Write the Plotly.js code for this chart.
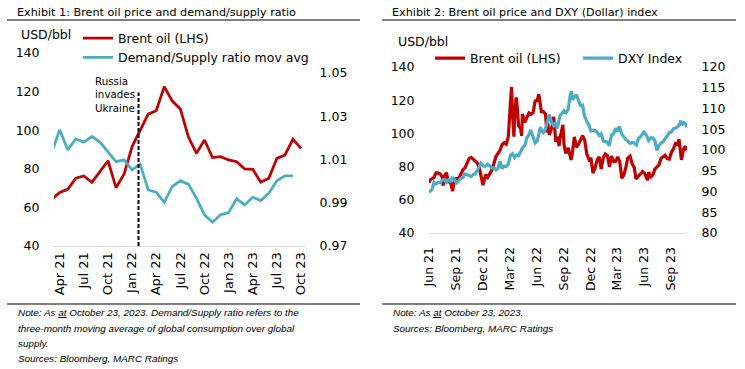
<!DOCTYPE html>
<html>
<head>
<meta charset="utf-8">
<script src="https://cdn.plot.ly/plotly-3.0.1.min.js"></script>
<style>
html,body{margin:0;padding:0;background:#fff;}
#chart{width:745px;height:369px;}
</style>
</head>
<body>
<div id="chart"></div>
<script>
// ---------- Exhibit 1 data (monthly, month-end) ----------
const months = ["Mar 21","Apr 21","May 21","Jun 21","Jul 21","Aug 21","Sep 21","Oct 21","Nov 21","Dec 21",
  "Jan 22","Feb 22","Mar 22","Apr 22","May 22","Jun 22","Jul 22","Aug 22","Sep 22","Oct 22","Nov 22","Dec 22",
  "Jan 23","Feb 23","Mar 23","Apr 23","May 23","Jun 23","Jul 23","Aug 23","Sep 23","Oct 23"];
const brentMonthly = [64.1,67.8,69.4,75.1,76.3,73.0,78.5,84.2,70.2,77.2,
  91.5,100.1,108.3,110.1,122.6,115.1,111.0,96.6,88.0,94.9,85.8,86.3,
  84.6,83.7,79.9,79.7,73.0,75.1,85.4,87.1,95.4,90.6];
const dsRatio = [1.0132,1.0237,1.0144,1.0195,1.0180,1.0206,1.0180,1.0134,1.0090,1.0098,
  1.0052,1.0078,0.9959,0.9949,0.9902,0.9975,1.0001,0.9986,0.9921,0.9844,0.9810,0.9844,
  0.9854,0.9918,0.9890,0.9925,0.9910,0.9944,1.0001,1.0024,1.0024,null];
const ex1TickLabels = ["Apr 21","Jul 21","Oct 21","Jan 22","Apr 22","Jul 22","Oct 22","Jan 23","Apr 23","Jul 23","Oct 23"];
const invasionPos = 10.8; // 24 Feb 2022 on the month index scale

// ---------- Exhibit 2 data ----------
const brentDates = ["2021-06-01","2021-06-04","2021-06-11","2021-06-18","2021-06-25","2021-07-02","2021-07-09","2021-07-16","2021-07-19","2021-07-23","2021-07-30",
"2021-08-06","2021-08-13","2021-08-20","2021-08-27","2021-09-03","2021-09-10","2021-09-17","2021-09-24","2021-10-01","2021-10-08","2021-10-15","2021-10-22","2021-10-29",
"2021-11-05","2021-11-12","2021-11-19","2021-11-26","2021-12-01","2021-12-03","2021-12-10","2021-12-17","2021-12-24","2021-12-31",
"2022-01-07","2022-01-14","2022-01-21","2022-01-28","2022-02-04","2022-02-11","2022-02-18","2022-02-25","2022-03-04","2022-03-08","2022-03-11","2022-03-16","2022-03-18","2022-03-23","2022-03-25",
"2022-04-01","2022-04-08","2022-04-11","2022-04-14","2022-04-22","2022-04-29","2022-05-06","2022-05-13","2022-05-20","2022-05-27","2022-06-03","2022-06-08","2022-06-10","2022-06-17","2022-06-24",
"2022-07-01","2022-07-06","2022-07-08","2022-07-14","2022-07-22","2022-07-29","2022-08-05","2022-08-12","2022-08-16","2022-08-19","2022-08-29","2022-09-02","2022-09-08","2022-09-16","2022-09-26","2022-09-30",
"2022-10-07","2022-10-14","2022-10-21","2022-10-28","2022-11-04","2022-11-11","2022-11-18","2022-11-28","2022-12-02","2022-12-09","2022-12-16","2022-12-23","2022-12-30",
"2023-01-06","2023-01-13","2023-01-20","2023-01-27","2023-02-03","2023-02-10","2023-02-17","2023-02-24","2023-03-03","2023-03-10","2023-03-17","2023-03-24","2023-03-31",
"2023-04-06","2023-04-14","2023-04-21","2023-04-28","2023-05-04","2023-05-12","2023-05-19","2023-05-26","2023-06-02","2023-06-12","2023-06-16","2023-06-23","2023-06-30",
"2023-07-07","2023-07-14","2023-07-21","2023-07-28","2023-08-04","2023-08-11","2023-08-18","2023-08-25","2023-09-01","2023-09-08","2023-09-15","2023-09-22","2023-09-27",
"2023-10-05","2023-10-13","2023-10-20","2023-10-23"];
const brentDaily = [70.25,71.89,72.69,73.51,76.18,76.17,75.55,73.59,68.62,74.10,76.33,
70.70,70.59,65.18,72.70,72.61,72.92,75.34,78.09,79.28,82.39,84.86,85.53,84.38,
82.74,82.17,78.89,72.72,68.87,69.88,75.15,73.52,76.14,77.78,
81.75,86.06,87.89,90.03,93.27,94.44,93.54,97.93,118.11,127.98,112.67,98.02,107.93,121.60,120.65,
104.39,102.78,98.48,111.70,106.65,109.34,112.39,111.55,112.55,119.43,119.72,123.58,122.01,113.12,113.12,
111.63,100.69,107.02,99.10,103.20,110.01,94.92,98.15,92.34,96.72,105.09,93.02,88.00,91.35,84.06,87.96,
97.92,91.63,93.50,95.77,98.57,95.99,87.62,83.19,85.57,76.10,79.04,83.92,85.91,
78.57,85.28,87.63,86.66,79.94,86.39,83.00,83.16,85.83,82.78,72.97,74.99,79.77,
85.12,86.31,81.66,79.54,72.50,74.17,75.58,76.95,76.13,71.84,76.61,73.85,74.90,
78.47,79.87,81.07,84.99,86.24,86.81,84.80,84.48,88.55,90.65,93.93,93.27,96.55,
84.07,90.89,92.16,89.83];

const dxyDates = ["2021-06-01","2021-06-04","2021-06-11","2021-06-18","2021-06-25","2021-07-02","2021-07-09","2021-07-16","2021-07-23","2021-07-30",
"2021-08-06","2021-08-13","2021-08-20","2021-08-27","2021-09-03","2021-09-10","2021-09-17","2021-09-24","2021-09-30","2021-10-08","2021-10-15","2021-10-22","2021-10-29",
"2021-11-05","2021-11-12","2021-11-19","2021-11-24","2021-12-03","2021-12-10","2021-12-17","2021-12-24","2021-12-31",
"2022-01-07","2022-01-14","2022-01-21","2022-01-28","2022-02-04","2022-02-11","2022-02-18","2022-02-25","2022-03-04","2022-03-11","2022-03-18","2022-03-25",
"2022-04-01","2022-04-08","2022-04-14","2022-04-22","2022-04-29","2022-05-06","2022-05-12","2022-05-20","2022-05-27","2022-06-03","2022-06-10","2022-06-14","2022-06-17","2022-06-24",
"2022-07-01","2022-07-08","2022-07-14","2022-07-22","2022-07-29","2022-08-05","2022-08-10","2022-08-19","2022-08-26","2022-09-02","2022-09-09","2022-09-16","2022-09-23","2022-09-27","2022-09-30",
"2022-10-07","2022-10-14","2022-10-21","2022-10-28","2022-11-04","2022-11-10","2022-11-18","2022-11-25","2022-12-02","2022-12-09","2022-12-16","2022-12-23","2022-12-30",
"2023-01-06","2023-01-13","2023-01-20","2023-01-27","2023-02-02","2023-02-10","2023-02-17","2023-02-24","2023-03-03","2023-03-08","2023-03-17","2023-03-24","2023-03-31",
"2023-04-07","2023-04-14","2023-04-21","2023-04-28","2023-05-05","2023-05-12","2023-05-19","2023-05-31","2023-06-09","2023-06-16","2023-06-23","2023-06-30",
"2023-07-07","2023-07-14","2023-07-21","2023-07-28","2023-08-04","2023-08-11","2023-08-18","2023-08-25","2023-09-01","2023-09-08","2023-09-15","2023-09-22","2023-09-29",
"2023-10-03","2023-10-06","2023-10-13","2023-10-20","2023-10-23"];
const dxyDaily = [89.8,90.1,90.5,92.2,91.8,92.2,92.1,92.7,92.9,92.2,
92.8,92.5,93.5,92.7,92.1,92.6,93.2,93.3,94.2,94.1,93.9,93.6,94.1,
94.3,95.1,96.0,96.8,96.1,96.1,96.6,96.0,95.7,
95.7,95.2,95.6,97.3,95.5,96.1,96.0,96.6,98.7,99.1,98.2,98.8,
98.6,99.8,100.5,101.1,103.0,103.7,104.8,103.2,101.7,102.2,104.2,105.5,104.7,104.2,
105.1,107.0,108.5,106.7,105.9,106.6,105.2,108.2,108.8,109.5,109.0,109.8,113.2,114.1,112.1,
112.8,113.3,111.9,110.7,110.8,108.3,106.9,106.0,104.6,104.8,104.7,104.3,103.5,
103.9,102.2,102.0,101.9,101.0,103.6,103.9,105.2,104.5,105.7,103.8,103.1,102.5,
102.1,101.6,101.8,101.7,101.2,102.7,103.2,104.3,103.5,102.3,102.9,102.9,
102.3,99.9,101.1,101.7,102.0,102.8,103.4,104.2,104.3,105.1,105.3,105.6,106.2,
107.1,106.0,106.6,106.2,105.5];

const RED = "#C00000", TEAL = "#4BACC6";
const FONT = "DejaVu Sans, Verdana, sans-serif";
const NOTEFONT = "Liberation Sans, Arial, sans-serif";
const W = 745, H = 369;
const px = v => v / W;
const py = v => 1 - v / H;

const traces = [
  {x: months, y: brentMonthly, type: "scatter", mode: "lines", name: "Brent oil (LHS)",
   line: {color: RED, width: 2.75}, xaxis: "x", yaxis: "y", legend: "legend"},
  {x: months, y: dsRatio, type: "scatter", mode: "lines", name: "Demand/Supply ratio mov avg",
   line: {color: TEAL, width: 2.75}, xaxis: "x", yaxis: "y2", legend: "legend"},
  {x: brentDates, y: brentDaily, type: "scatter", mode: "lines", name: "Brent oil (LHS)",
   line: {color: RED, width: 3.2}, xaxis: "x3", yaxis: "y3", legend: "legend2"},
  {x: dxyDates, y: dxyDaily, type: "scatter", mode: "lines", name: "DXY Index",
   line: {color: TEAL, width: 3.2}, xaxis: "x3", yaxis: "y4", legend: "legend2"}
];

const tickFont = {family: FONT, size: 12.5, color: "#000"};
const hiddenTicks = {ticks: "outside", ticklen: 11, tickcolor: "rgba(0,0,0,0)"};
const noteFont = {family: NOTEFONT, size: 9.9, color: "#000"};

const layout = {
  width: W, height: H,
  margin: {l: 0, r: 0, t: 0, b: 0},
  paper_bgcolor: "#fff", plot_bgcolor: "rgba(0,0,0,0)",
  showlegend: true,
  xaxis: {domain: [px(54), px(305)], type: "category", anchor: "y",
    range: [0.29, 31.5], tickmode: "array", tickvals: ex1TickLabels, ticktext: ex1TickLabels,
    tickangle: -90, tickfont: {family: FONT, size: 13, color: "#000"}, showgrid: false, zeroline: false,
    showline: true, linecolor: "#D9D9D9", linewidth: 1, ticks: ""},
  yaxis: Object.assign({domain: [py(246), py(53)], range: [40, 140], dtick: 20, anchor: "x",
    showgrid: false, zeroline: false, showline: false, tickfont: tickFont}, hiddenTicks),
  yaxis2: Object.assign({overlaying: "y", side: "right", anchor: "x", range: [0.97, 1.0592],
    tickmode: "array", tickvals: [0.97, 0.99, 1.01, 1.03, 1.05], tickformat: ".2f",
    showgrid: false, zeroline: false, showline: false, tickfont: tickFont}, hiddenTicks),
  xaxis3: {domain: [px(429), px(687)], type: "date", anchor: "y3",
    range: ["2021-06-01", "2023-10-24"], tick0: "2021-06-01", dtick: "M3", tickformat: "%b %y",
    tickangle: -90, tickfont: tickFont, showgrid: false, zeroline: false,
    showline: true, linecolor: "#D9D9D9", linewidth: 1,
    ticks: "outside", ticklen: 8, tickcolor: "rgba(0,0,0,0)"},
  yaxis3: Object.assign({domain: [py(233), py(67)], range: [40, 140], dtick: 20, anchor: "x3",
    showgrid: false, zeroline: false, showline: false, tickfont: tickFont}, hiddenTicks),
  yaxis4: Object.assign({overlaying: "y3", side: "right", anchor: "x3", range: [80, 120], dtick: 5,
    showgrid: false, zeroline: false, showline: false, tickfont: tickFont}, hiddenTicks),
  legend: {x: px(78), xanchor: "left", y: py(23.5), yanchor: "top", orientation: "v",
    bgcolor: "rgba(0,0,0,0)", borderwidth: 0, itemwidth: 30, tracegroupgap: 0,
    font: {family: FONT, size: 12.5, color: "#000"}},
  legend2: {x: px(430), xanchor: "left", y: py(43.4), yanchor: "top", orientation: "h",
    bgcolor: "rgba(0,0,0,0)", borderwidth: 0, itemwidth: 30,
    entrywidth: 103, entrywidthmode: "pixels",
    font: {family: FONT, size: 12.5, color: "#000"}},
  shapes: [
    {type: "line", xref: "paper", yref: "paper", x0: px(7), x1: px(360), y0: py(20), y1: py(20), line: {color: "#000", width: 1}},
    {type: "line", xref: "paper", yref: "paper", x0: px(382), x1: px(736), y0: py(20), y1: py(20), line: {color: "#000", width: 1}},
    {type: "line", xref: "paper", yref: "paper", x0: px(7), x1: px(360), y0: py(304), y1: py(304), line: {color: "#000", width: 1}},
    {type: "line", xref: "paper", yref: "paper", x0: px(382), x1: px(736), y0: py(304), y1: py(304), line: {color: "#000", width: 1}},
    {type: "line", xref: "x", yref: "y", x0: invasionPos, x1: invasionPos, y0: 40, y1: 119.5,
     line: {color: "#000", width: 2, dash: "4px,2px"}}
  ],
  annotations: [
    {xref: "paper", yref: "paper", x: px(15), y: py(13), xanchor: "left", yanchor: "middle", showarrow: false,
     text: "Exhibit 1: Brent oil price and demand/supply ratio", font: {family: FONT, size: 11.2, color: "#000"}},
    {xref: "paper", yref: "paper", x: px(390), y: py(13), xanchor: "left", yanchor: "middle", showarrow: false,
     text: "Exhibit 2: Brent oil price and DXY (Dollar) index", font: {family: FONT, size: 11.2, color: "#000"}},
    {xref: "paper", yref: "paper", x: px(19), y: py(35), xanchor: "left", yanchor: "middle", showarrow: false,
     text: "USD/bbl", font: {family: FONT, size: 12.5, color: "#000"}},
    {xref: "paper", yref: "paper", x: px(396), y: py(41), xanchor: "left", yanchor: "middle", showarrow: false,
     text: "USD/bbl", font: {family: FONT, size: 12.5, color: "#000"}},
    {xref: "x", yref: "paper", x: invasionPos, xshift: -2, y: py(73), xanchor: "right", yanchor: "top", align: "left", showarrow: false,
     text: "Russia<br>invades<br>Ukraine", font: {family: FONT, size: 10.3, color: "#000"}},
    {xref: "paper", yref: "paper", x: px(16), y: py(312), xanchor: "left", yanchor: "middle", showarrow: false,
     text: "<i>Note: As <u>at</u> October 23, 2023. Demand/Supply ratio refers to the</i>", font: noteFont},
    {xref: "paper", yref: "paper", x: px(16), y: py(328), xanchor: "left", yanchor: "middle", showarrow: false,
     text: "<i>three-month moving average of global consumption over global</i>", font: noteFont},
    {xref: "paper", yref: "paper", x: px(16), y: py(343.5), xanchor: "left", yanchor: "middle", showarrow: false,
     text: "<i>supply.</i>", font: noteFont},
    {xref: "paper", yref: "paper", x: px(16), y: py(358), xanchor: "left", yanchor: "middle", showarrow: false,
     text: "<i>Sources: Bloomberg, MARC Ratings</i>", font: noteFont},
    {xref: "paper", yref: "paper", x: px(391), y: py(312), xanchor: "left", yanchor: "middle", showarrow: false,
     text: "<i>Note: As <u>at</u> October 23, 2023.</i>", font: noteFont},
    {xref: "paper", yref: "paper", x: px(391), y: py(328), xanchor: "left", yanchor: "middle", showarrow: false,
     text: "<i>Sources: Bloomberg, MARC Ratings</i>", font: noteFont}
  ]
};

Plotly.newPlot("chart", traces, layout, {staticPlot: true, displayModeBar: false});
</script>
</body>
</html>
